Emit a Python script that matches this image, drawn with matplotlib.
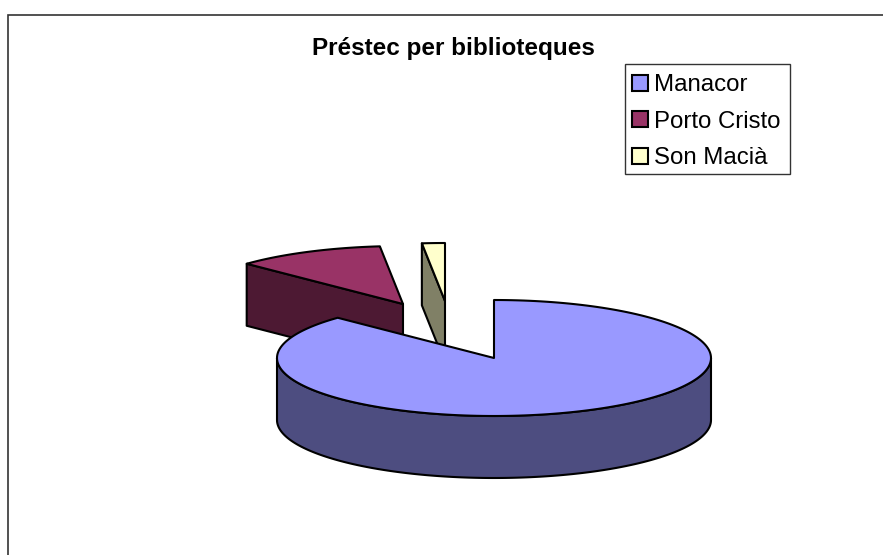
import numpy as np
import matplotlib
matplotlib.use("Agg")
import matplotlib.pyplot as plt
from matplotlib.patches import Polygon, Patch, Rectangle

plt.rcParams['font.family'] = ['Liberation Sans', 'DejaVu Sans']

title = "Préstec per biblioteques"
libraries = ["Manacor", "Porto Cristo", "Son Macià"]
loans = [87.2, 11.1, 1.7]
top_colors = ["#9999ff", "#993366", "#ffffcc"]
side_colors = ["#4d4d80", "#4d1933", "#808066"]

W, H = 883, 555
RX, RY, DEPTH = 217, 58, 62
# apex of each exploded slice, in pixels
apex_x = [494, 403, 445]
apex_y = [358, 304, 301]

def rim(cx, cy, a0, a1, dy=0):
    # angles are clockwise from 12 o'clock, in degrees
    t = np.radians(np.linspace(a0, a1, 200))
    return np.column_stack([cx + RX * np.sin(t), cy - RY * np.cos(t) + dy])

fig = plt.figure(figsize=(W / 100, H / 100), dpi=100)
ax = fig.add_axes([0, 0, 1, 1])
ax.set_xlim(0, W)
ax.set_ylim(H, 0)
ax.axis("off")

# chart area frame, only left and top show up
ax.plot([8, 8, W], [H, 15, 15], color="#333333", lw=1.2, solid_joinstyle="miter")

ends = np.cumsum(loans) / np.sum(loans) * 360
starts = np.concatenate([[0], ends[:-1]])

edge = dict(edgecolor="black", lw=1.5, joinstyle="round")

# back slices first, Manacor covers them
for i in [2, 1]:
    cx, cy = apex_x[i], apex_y[i]
    p = rim(cx, cy, starts[i], starts[i])[0]
    face = [p, (cx, cy), (cx, cy + DEPTH), (p[0], p[1] + DEPTH)]
    ax.add_patch(Polygon(face, closed=True, facecolor=side_colors[i], **edge))
    top = np.vstack([[(cx, cy)], rim(cx, cy, starts[i], ends[i])])
    ax.add_patch(Polygon(top, closed=True, facecolor=top_colors[i], **edge))

cx, cy = apex_x[0], apex_y[0]
front = rim(cx, cy, 90, 270)
wall = np.vstack([front, rim(cx, cy, 270, 90, DEPTH)])
ax.add_patch(Polygon(wall, closed=True, facecolor=side_colors[0], **edge))
top = np.vstack([[(cx, cy)], rim(cx, cy, starts[0], ends[0])])
ax.add_patch(Polygon(top, closed=True, facecolor=top_colors[0], **edge))

ax.text(453, 48, title, ha="center", va="center", fontsize=17.5, fontweight="bold", color="black")

# legend box is drawn apart, its text sits lower than legend padding allows
ax.add_patch(Rectangle((625, 64), 165, 109.5, facecolor="white", edgecolor="#333333", lw=1.0))
handles = [Patch(facecolor=c, edgecolor="black", lw=1.5) for c in top_colors]
leg = ax.legend(handles, libraries, loc="upper left", bbox_to_anchor=(625, 67),
                bbox_transform=ax.transData, fontsize=17.3, frameon=False, borderaxespad=0,
                borderpad=0.3, handlelength=0.65, handleheight=0.65, handletextpad=0.25,
                labelspacing=0.6)

fig.savefig("out.png", dpi=100)
